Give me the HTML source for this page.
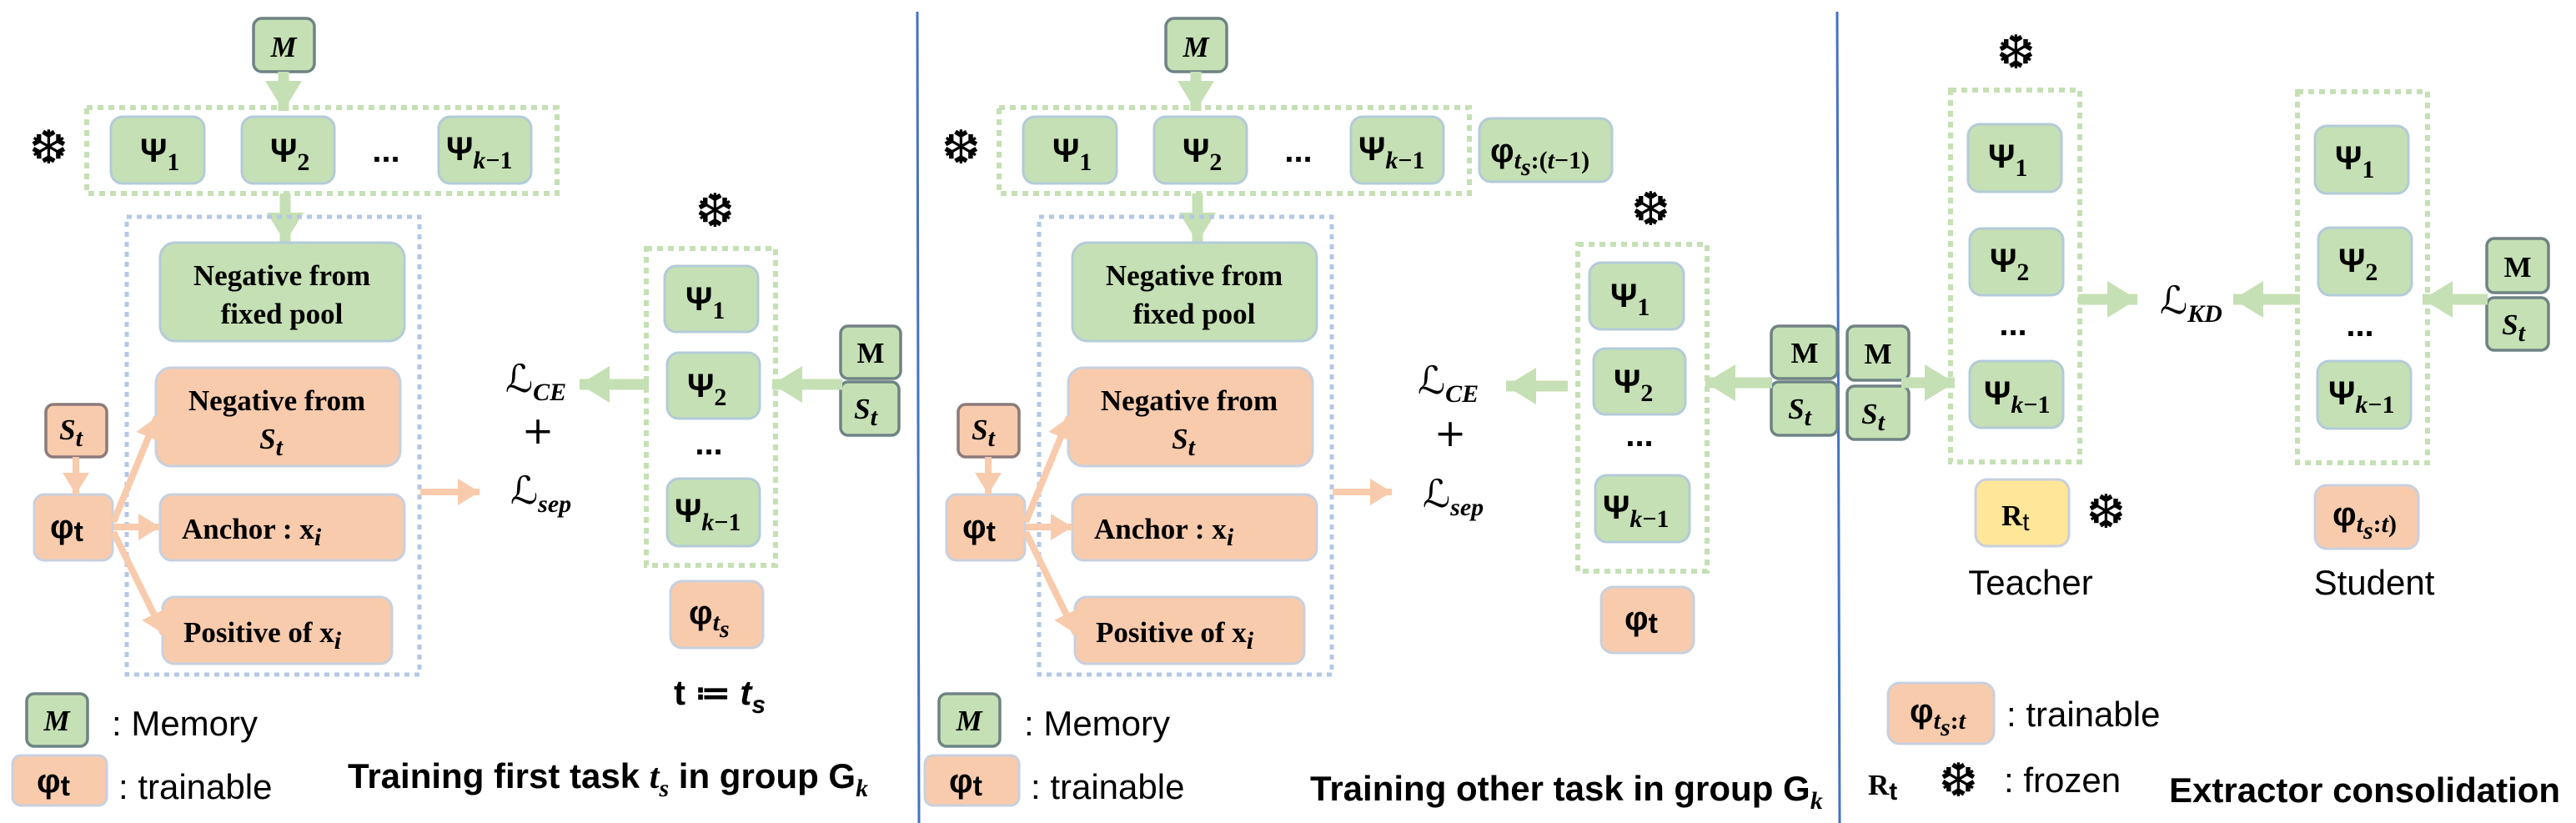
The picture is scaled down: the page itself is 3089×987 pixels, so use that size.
<!DOCTYPE html>
<html><head><meta charset="utf-8"><style>
html,body{margin:0;padding:0;background:#fff}
svg{display:block}
.g{fill:#c5e0b4;stroke:#b3cbd8;stroke-width:3}
.gm{fill:#c5e0b4;stroke:#6f8384;stroke-width:3.5}
.o{fill:#f8cbad;stroke:#c8d0de;stroke-width:3}
.os{fill:#f8cbad;stroke:#8c7a7a;stroke-width:3.5}
.yl{fill:#ffe699;stroke:#c8d0de;stroke-width:3}
.cg{fill:none;stroke:#c5e0b4;stroke-width:6;stroke-dasharray:7,6}
.cb{fill:none;stroke:#b4c7e7;stroke-width:5;stroke-dasharray:6,6}
.ga{stroke:#c5e0b4;stroke-width:13;fill:none}
.oa{stroke:#f8cbad;stroke-width:8;fill:none}
.psi{font-family:"Liberation Sans",sans-serif;font-weight:bold;font-size:40px;fill:#000}
.sub{font-family:"Liberation Serif",serif;font-weight:bold;font-size:30px}
.it{font-style:italic}
.box{font-family:"Liberation Serif",serif;font-weight:bold;font-size:35px;fill:#000}
.lg{font-family:"Liberation Sans",sans-serif;font-size:42px;fill:#000}
.tt{font-family:"Liberation Sans",sans-serif;font-weight:bold;font-size:42px;fill:#000}
.sf{font-family:"DejaVu Sans",sans-serif;font-size:56px;fill:#000}
.math{font-family:"DejaVu Serif","Liberation Serif",serif;font-size:46px;fill:#000}
.dots{font-family:"Liberation Sans",sans-serif;font-weight:bold;font-size:40px}
</style></head><body>
<svg width="3089" height="987" viewBox="0 0 3089 987" xmlns="http://www.w3.org/2000/svg">
<defs>
<marker id="gh" markerWidth="40" markerHeight="44" refX="36" refY="22" orient="auto" markerUnits="userSpaceOnUse"><path d="M0,0 L36,22 L0,44 z" fill="#c5e0b4"/></marker>
<marker id="oh" markerWidth="30" markerHeight="32" refX="26" refY="16" orient="auto" markerUnits="userSpaceOnUse"><path d="M0,0 L26,16 L0,32 z" fill="#f8cbad"/></marker>
</defs>

<!-- dividers -->
<line x1="1100" y1="14" x2="1102" y2="987" stroke="#4472c4" stroke-width="3"/>
<line x1="2203" y1="14" x2="2206" y2="987" stroke="#4472c4" stroke-width="3"/>

<!-- ================= PANEL 1 & 2 shared left part ================= -->
<g id="left1">
<rect class="gm" x="304" y="22" width="73" height="64" rx="10"/>
<text class="box it" x="340" y="68" text-anchor="middle" font-size="36">M</text>
<text class="sf" x="35" y="196">❆</text>
<rect class="cg" x="104" y="129" width="564" height="103"/>
<rect class="g" x="133" y="140" width="112" height="80" rx="14"/>
<text class="psi" x="168" y="194">Ψ<tspan class="sub" dy="10">1</tspan></text>
<rect class="g" x="290" y="140" width="111" height="80" rx="14"/>
<text class="psi" x="324" y="194">Ψ<tspan class="sub" dy="10">2</tspan></text>
<text class="dots" x="463" y="194" text-anchor="middle">...</text>
<rect class="g" x="526" y="140" width="111" height="80" rx="14"/>
<text class="psi" x="535" y="192">Ψ<tspan class="sub it" dy="10">k</tspan><tspan class="sub" dy="0">−1</tspan></text>
<line class="ga" x1="340" y1="86" x2="340" y2="133" marker-end="url(#gh)"/>
<line class="ga" x1="342" y1="232" x2="342" y2="291" marker-end="url(#gh)"/>
<rect class="cb" x="152" y="260" width="351" height="549"/>
<rect class="g" x="192" y="291" width="293" height="118" rx="18"/>
<text class="box" x="338" y="342" text-anchor="middle">Negative from</text>
<text class="box" x="338" y="388" text-anchor="middle">fixed pool</text>
<rect class="o" x="187" y="441" width="293" height="118" rx="18"/>
<text class="box" x="332" y="492" text-anchor="middle">Negative from</text>
<text class="box it" x="325" y="538" text-anchor="middle">S<tspan class="sub it" dy="8">t</tspan></text>
<rect class="o" x="192" y="593" width="293" height="79" rx="14"/>
<text class="box" x="218" y="646">Anchor :  x<tspan class="sub it" dy="8">i</tspan></text>
<rect class="o" x="195" y="716" width="275" height="80" rx="14"/>
<text class="box" x="220" y="770">Positive of  x<tspan class="sub it" dy="8">i</tspan></text>
<rect class="os" x="55" y="485" width="73" height="63" rx="9"/>
<text class="box it" x="85" y="527" text-anchor="middle">S<tspan class="sub it" dy="8">t</tspan></text>
<rect class="o" x="41" y="593" width="94" height="79" rx="12"/>
<text class="psi" x="60" y="645">φ<tspan font-size="34" dy="4">t</tspan></text>
<line class="oa" x1="91" y1="548" x2="91" y2="593" marker-end="url(#oh)"/>
<line class="oa" x1="136" y1="626" x2="188" y2="500" marker-end="url(#oh)"/>
<line class="oa" x1="136" y1="632" x2="192" y2="632" marker-end="url(#oh)"/>
<line class="oa" x1="136" y1="638" x2="196" y2="760" marker-end="url(#oh)"/>
<line class="oa" x1="504" y1="590" x2="575" y2="590" marker-end="url(#oh)"/>
<!-- legend -->
<rect class="gm" x="32" y="832" width="73" height="63" rx="9"/>
<text class="box it" x="68" y="876" text-anchor="middle">M</text>
<text class="lg" x="134" y="882">: Memory</text>
<rect class="o" x="15" y="906" width="113" height="60" rx="10"/>
<text class="psi" x="44" y="950">φ<tspan font-size="34" dy="4">t</tspan></text>
<text class="lg" x="142" y="958">: trainable</text>
</g>

<use href="#left1" x="1094" y="0"/>

<!-- ================= PANEL 1 right ================= -->
<text class="math" x="606" y="470">ℒ<tspan class="sub it" font-size="32" dy="10">CE</tspan></text>
<text class="math" x="645" y="532" text-anchor="middle">+</text>
<text class="math" x="612" y="604">ℒ<tspan class="sub it" font-size="32" dy="10">sep</tspan></text>
<text class="sf" x="834" y="272">❆</text>
<rect class="cg" x="775" y="298" width="155" height="380"/>
<rect class="g" x="797" y="319" width="112" height="79" rx="14"/>
<text class="psi" x="822" y="372">Ψ<tspan class="sub" dy="10">1</tspan></text>
<rect class="g" x="800" y="423" width="111" height="79" rx="14"/>
<text class="psi" x="824" y="476">Ψ<tspan class="sub" dy="10">2</tspan></text>
<text class="dots" x="850" y="545" text-anchor="middle">...</text>
<rect class="g" x="800" y="574" width="111" height="81" rx="14"/>
<text class="psi" x="809" y="626">Ψ<tspan class="sub it" dy="10">k</tspan><tspan class="sub">−1</tspan></text>
<rect class="o" x="804" y="697" width="111" height="80" rx="14"/>
<text class="psi" x="826" y="748">φ<tspan class="sub it" dy="8">t</tspan><tspan class="sub it" font-size="22" dy="8">s</tspan></text>
<text class="tt" x="863" y="845" text-anchor="middle" font-family="Liberation Serif">t ≔ <tspan class="it">t</tspan><tspan class="it" font-size="30" dy="10">s</tspan></text>
<rect class="gm" x="1008" y="391" width="72" height="63" rx="9"/>
<text class="box" x="1044" y="435" text-anchor="middle">M</text>
<rect class="gm" x="1008" y="458" width="70" height="64" rx="9"/>
<text class="box it" x="1038" y="502" text-anchor="middle">S<tspan class="sub it" dy="8">t</tspan></text>
<line class="ga" x1="1010" y1="461" x2="926" y2="461" marker-end="url(#gh)"/>
<line class="ga" x1="778" y1="461" x2="695" y2="461" marker-end="url(#gh)"/>
<text class="tt" x="417" y="945">Training first task <tspan font-family="Liberation Serif" font-style="italic">t</tspan><tspan font-family="Liberation Serif" font-style="italic" font-size="30" dy="10">s</tspan><tspan dy="-10"> in group G</tspan><tspan font-family="Liberation Serif" font-style="italic" font-size="30" dy="10">k</tspan></text>

<!-- ================= PANEL 2 right ================= -->
<rect class="g" x="1774" y="142" width="159" height="76" rx="14"/>
<text class="psi" x="1787" y="194">φ<tspan class="sub it" dy="8">t</tspan><tspan class="sub it" font-size="22" dy="8">s</tspan><tspan class="sub" dy="-8">:(</tspan><tspan class="sub it">t</tspan><tspan class="sub">−1)</tspan></text>
<text class="math" x="1700" y="472">ℒ<tspan class="sub it" font-size="32" dy="10">CE</tspan></text>
<text class="math" x="1739" y="535" text-anchor="middle">+</text>
<text class="math" x="1706" y="608">ℒ<tspan class="sub it" font-size="32" dy="10">sep</tspan></text>
<text class="sf" x="1956" y="270">❆</text>
<rect class="cg" x="1892" y="293" width="155" height="392"/>
<rect class="g" x="1906" y="315" width="113" height="80" rx="14"/>
<text class="psi" x="1931" y="368">Ψ<tspan class="sub" dy="10">1</tspan></text>
<rect class="g" x="1911" y="418" width="110" height="79" rx="14"/>
<text class="psi" x="1935" y="471">Ψ<tspan class="sub" dy="10">2</tspan></text>
<text class="dots" x="1966" y="535" text-anchor="middle">...</text>
<rect class="g" x="1913" y="570" width="113" height="80" rx="14"/>
<text class="psi" x="1922" y="622">Ψ<tspan class="sub it" dy="10">k</tspan><tspan class="sub">−1</tspan></text>
<rect class="o" x="1920" y="704" width="111" height="79" rx="14"/>
<text class="psi" x="1948" y="755">φ<tspan font-size="34" dy="4">t</tspan></text>
<rect class="gm" x="2124" y="391" width="79" height="63" rx="9"/>
<text class="box" x="2164" y="435" text-anchor="middle">M</text>
<rect class="gm" x="2124" y="458" width="79" height="64" rx="9"/>
<text class="box it" x="2158" y="502" text-anchor="middle">S<tspan class="sub it" dy="8">t</tspan></text>
<line class="ga" x1="2125" y1="459" x2="2045" y2="459" marker-end="url(#gh)"/>
<line class="ga" x1="1880" y1="463" x2="1806" y2="463" marker-end="url(#gh)"/>
<text class="tt" x="1571" y="960">Training other task in group G<tspan font-family="Liberation Serif" font-style="italic" font-size="30" dy="10">k</tspan></text>

<!-- ================= PANEL 3 ================= -->
<rect class="gm" x="2215" y="391" width="74" height="65" rx="9"/>
<text class="box" x="2252" y="436" text-anchor="middle">M</text>
<rect class="gm" x="2215" y="463" width="74" height="64" rx="9"/>
<text class="box it" x="2246" y="508" text-anchor="middle">S<tspan class="sub it" dy="8">t</tspan></text>
<line class="ga" x1="2280" y1="459" x2="2344" y2="459" marker-end="url(#gh)"/>
<text class="sf" x="2394" y="82">❆</text>
<rect class="cg" x="2339" y="108" width="155" height="446"/>
<rect class="g" x="2360" y="149" width="112" height="81" rx="14"/>
<text class="psi" x="2384" y="201">Ψ<tspan class="sub" dy="10">1</tspan></text>
<rect class="g" x="2362" y="274" width="112" height="80" rx="14"/>
<text class="psi" x="2386" y="326">Ψ<tspan class="sub" dy="10">2</tspan></text>
<text class="dots" x="2414" y="402" text-anchor="middle">...</text>
<rect class="g" x="2362" y="433" width="112" height="80" rx="14"/>
<text class="psi" x="2379" y="485">Ψ<tspan class="sub it" dy="10">k</tspan><tspan class="sub">−1</tspan></text>
<line class="ga" x1="2492" y1="359" x2="2563" y2="359" marker-end="url(#gh)"/>
<text class="math" x="2590" y="376">ℒ<tspan class="sub it" font-size="32" dy="10">KD</tspan></text>
<line class="ga" x1="2758" y1="359" x2="2678" y2="359" marker-end="url(#gh)"/>
<rect class="cg" x="2755" y="110" width="156" height="445"/>
<rect class="g" x="2776" y="151" width="112" height="81" rx="14"/>
<text class="psi" x="2800" y="203">Ψ<tspan class="sub" dy="10">1</tspan></text>
<rect class="g" x="2780" y="273" width="112" height="81" rx="14"/>
<text class="psi" x="2804" y="326">Ψ<tspan class="sub" dy="10">2</tspan></text>
<text class="dots" x="2830" y="403" text-anchor="middle">...</text>
<rect class="g" x="2779" y="433" width="112" height="81" rx="14"/>
<text class="psi" x="2792" y="485">Ψ<tspan class="sub it" dy="10">k</tspan><tspan class="sub">−1</tspan></text>
<rect class="gm" x="2982" y="286" width="74" height="65" rx="9"/>
<text class="box" x="3019" y="332" text-anchor="middle">M</text>
<rect class="gm" x="2982" y="357" width="74" height="63" rx="9"/>
<text class="box it" x="3014" y="401" text-anchor="middle">S<tspan class="sub it" dy="8">t</tspan></text>
<line class="ga" x1="2983" y1="359" x2="2905" y2="359" marker-end="url(#gh)"/>
<rect class="yl" x="2369" y="575" width="112" height="80" rx="14"/>
<text class="box" x="2400" y="630" font-size="38">R<tspan font-family="Liberation Sans" font-weight="normal" font-size="30" dy="6">t</tspan></text>
<text class="sf" x="2502" y="633">❆</text>
<text class="lg" x="2435" y="713" text-anchor="middle">Teacher</text>
<rect class="o" x="2776" y="582" width="124" height="76" rx="14"/>
<text class="psi" x="2797" y="630">φ<tspan class="sub it" dy="8">t</tspan><tspan class="sub it" font-size="22" dy="8">s</tspan><tspan class="sub" dy="-8">:</tspan><tspan class="sub it">t</tspan><tspan class="sub">)</tspan></text>
<text class="lg" x="2847" y="713" text-anchor="middle">Student</text>
<rect class="o" x="2264" y="819" width="127" height="73" rx="14"/>
<text class="psi" x="2290" y="866">φ<tspan class="sub it" dy="8">t</tspan><tspan class="sub it" font-size="22" dy="8">s</tspan><tspan class="sub" dy="-8">:</tspan><tspan class="sub it">t</tspan></text>
<text class="lg" x="2406" y="871">: trainable</text>
<text class="box" x="2240" y="953" font-size="40" font-weight="normal">R<tspan font-family="Liberation Sans" font-size="30" dy="6">t</tspan></text>
<text class="sf" x="2325" y="955">❆</text>
<text class="lg" x="2403" y="950">:  frozen</text>
<text class="tt" x="2601" y="962">Extractor consolidation</text>
</svg>
</body></html>
